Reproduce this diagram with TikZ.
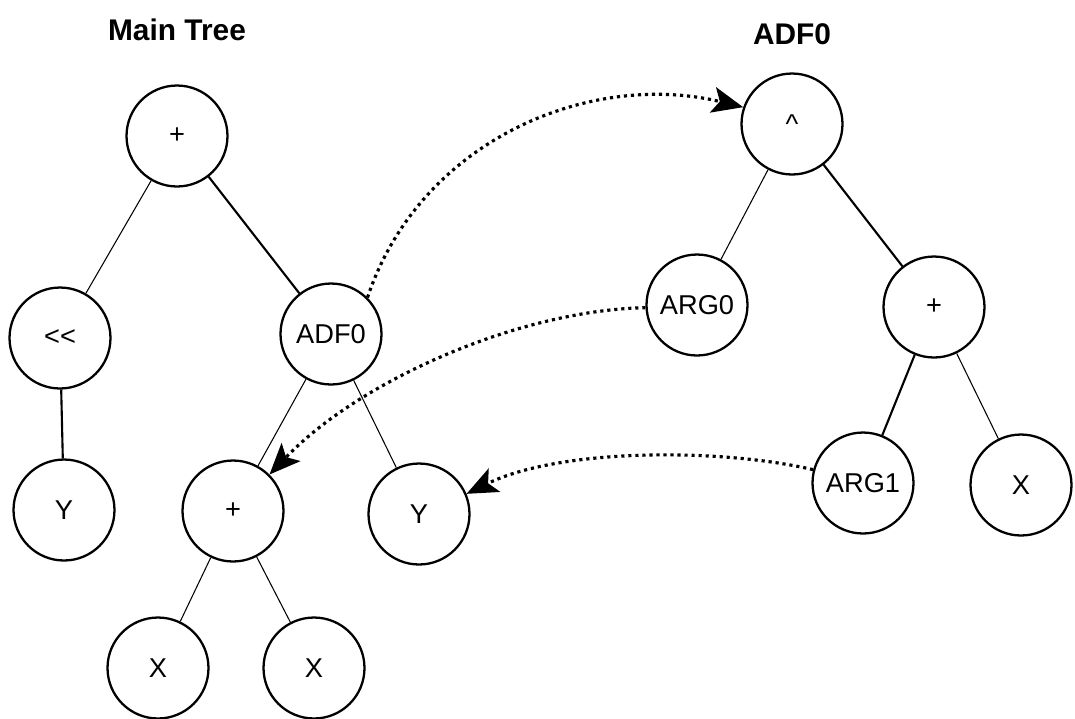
\documentclass[tikz,border=0pt]{standalone}
\usepackage{fontspec}
\setmainfont{Liberation Sans}
\usetikzlibrary{arrows.meta}

\begin{document}
\begin{tikzpicture}[x=0.02cm, y=-0.02cm,
		bola/.style = {draw, circle, line width=1.3pt, minimum size=2.02cm, inner sep=0pt, font=\fontsize{15.5}{18}\selectfont},
		prima/.style = {line width=0.6pt},
		gruixut/.style = {line width=1.2pt},
		puntejat/.style = {line width=1.8pt, dash pattern=on 1.8pt off 2.2pt, -{Stealth[length=0.62cm, width=0.52cm, inset=0.14cm]}}]
				\useasboundingbox (0,0) rectangle (1075,718);
				% titols
				\node[font=\fontsize{17}{20}\selectfont\bfseries] (titolmain) at (177,30) {Main Tree};
				\node[font=\fontsize{17}{20}\selectfont\bfseries] (titoladf) at (792,34) {ADF0};
				% arbre principal
				\node[bola] (suma) at (177,136) {+};
				\node[bola] (shift) at (60,338) {<{}<};
				\node[bola] (adf) at (331,334) {ADF0};
				\node[bola] (ya) at (64,510) {Y};
				\node[bola] (sumab) at (233,511) {+};
				\node[bola] (yb) at (419,514) {Y};
				\node[bola] (xa) at (158,668) {X};
				\node[bola] (xb) at (314,668) {X};
				\draw[prima] (suma) -- (shift);
				\draw[gruixut] (suma) -- (adf);
				\draw[gruixut] (shift) -- (ya);
				\draw[prima] (adf) -- (sumab);
				\draw[prima] (adf) -- (yb);
				\draw[prima] (sumab) -- (xa);
				\draw[prima] (sumab) -- (xb);
				% arbre ADF0
				\node[bola] (pot) at (792,124) {\^{}};
				\node[bola] (arga) at (697,305) {ARG0};
				\node[bola] (sumac) at (934,307) {+};
				\node[bola] (argb) at (863,483) {ARG1};
				\node[bola] (xc) at (1021,485) {X};
				\draw[prima] (pot) -- (arga);
				\draw[gruixut] (pot) -- (sumac);
				\draw[gruixut] (sumac) -- (argb);
				\draw[prima] (sumac) -- (xc);
				% fletxes
				\draw[puntejat] (adf.45) .. controls (420,140) and (590,70) .. (pot.161);
				\draw[puntejat] (arga.183) .. controls (520,310) and (360,380) .. (sumab.45);
				\draw[puntejat] (argb.165) .. controls (720,448) and (560,448) .. (yb.23);
			\end{tikzpicture}
\end{document}
